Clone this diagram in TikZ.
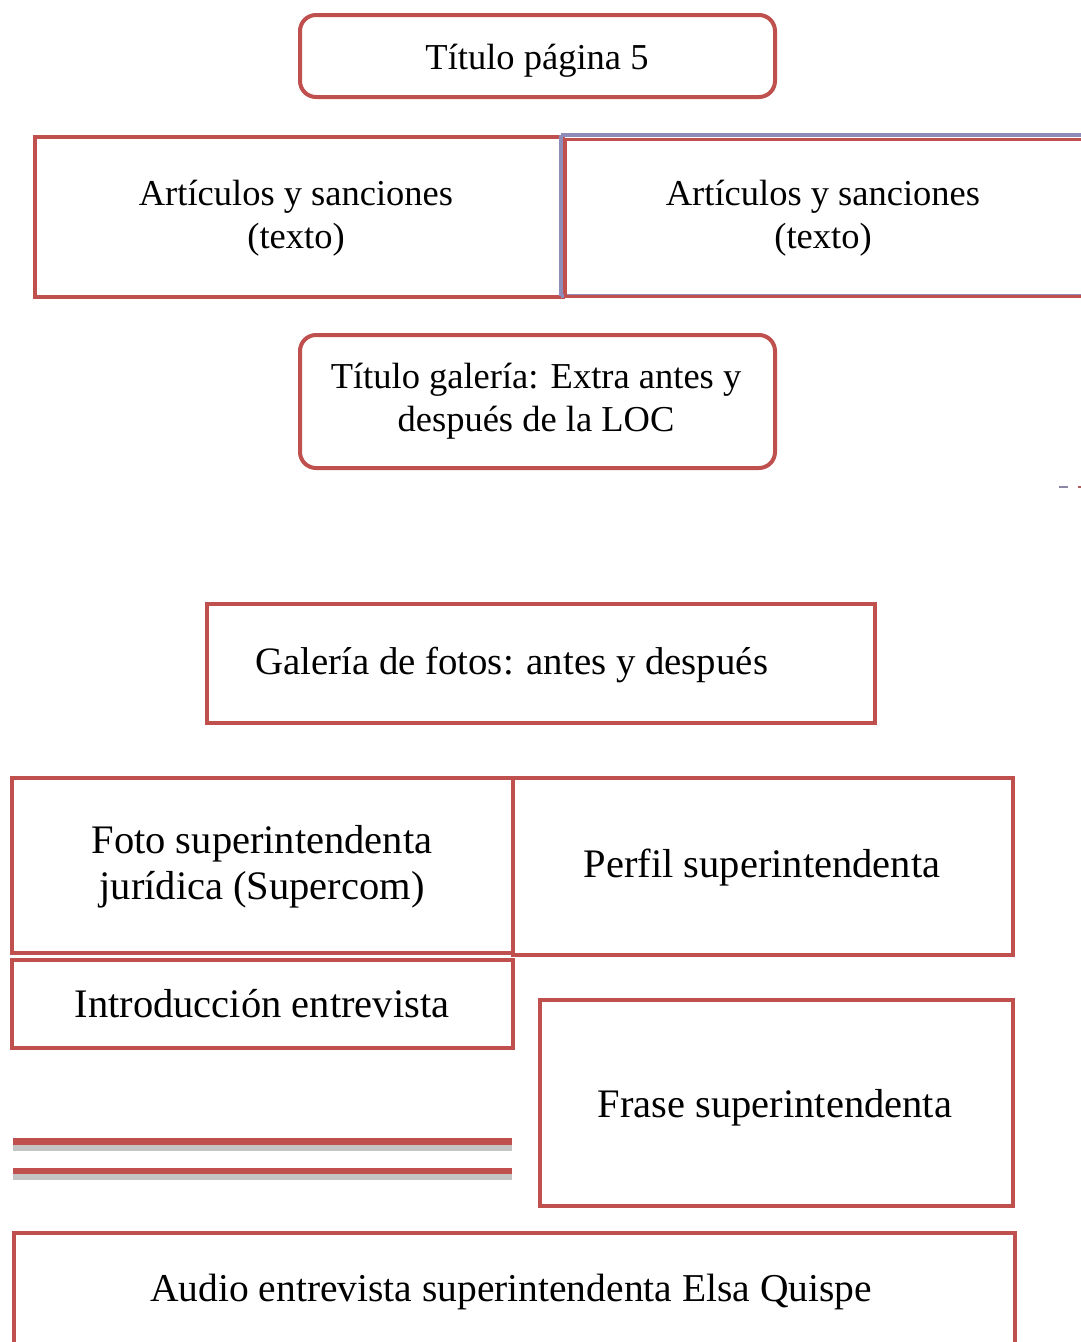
\documentclass[tikz,border=0pt]{standalone}
\usepackage{fontspec}
\setmainfont{Liberation Serif}
\definecolor{boxred}{HTML}{C0504D}
\definecolor{boxblue}{HTML}{8E8CB8}
\definecolor{shade}{HTML}{C4C4C4}
\begin{document}
\begin{tikzpicture}[x=1pt,y=-1pt,
  box/.style={draw=boxred, line width=4pt, rectangle, inner sep=0pt},
  rbox/.style={box, rounded corners=16pt},
  txt/.style={inner sep=0pt, align=center, font=\fontsize{36.5}{43}\selectfont},
  bigtxt/.style={txt, font=\fontsize{40.5}{46}\selectfont},
  bar/.style={draw=boxred, line width=6.5pt},
  barshade/.style={draw=shade, line width=6pt}]
\useasboundingbox (0,0) rectangle (1081,1342);
\fill[white] (0,0) rectangle (1081,1342);

% Title page
\node[rbox, minimum width=475, minimum height=82] (tp) at (537.5,56) {};
\node[txt] (tpt) at (537,61) {Título página 5};

% Articulos left
\node[box, minimum width=528, minimum height=160] (artl) at (299,217) {};
\node[txt] (artlt) at (296,218) {Artículos y sanciones\\(texto)};

% Articulos right (extends past edge)
\draw[boxblue, line width=4pt] (561,134.5) -- (1100,134.5);
\draw[boxblue, line width=4pt] (561,134.5) -- (561,296);
\draw[boxblue, line width=4pt] (561,296) -- (1100,296);
\node[box, line width=3pt, minimum width=540, minimum height=157, anchor=north west] (artr) at (564,137.5) {};
\node[txt] (artrt) at (823,218) {Artículos y sanciones\\(texto)};

% Titulo galeria
\node[rbox, minimum width=475, minimum height=133] (tg) at (537.5,401.5) {};
\node[txt] (tgt) at (536,401) {Título galería: Extra antes y\\después de la LOC};

% tiny mark
\coordinate (m1) at (1059,487);
\coordinate (m2) at (1068,487);
\coordinate (m3) at (1078,487);
\coordinate (m4) at (1081,487);
\draw[boxblue!70!gray, line width=1.5pt] (m1) -- (m2);
\draw[boxred!70!gray, line width=1.5pt] (m3) -- (m4);

% Galeria de fotos
\node[box, minimum width=668, minimum height=119] (gal) at (541,663.5) {};
\node[txt, anchor=west, font=\fontsize{38.8}{44}\selectfont] (galt) at ([xshift=50,yshift=-2]gal.west) {Galería de fotos: antes y después};

% Foto
\node[box, minimum width=501, minimum height=175] (foto) at (262.5,865.5) {};
\node[bigtxt] (fotot) at (262,867) {Foto superintendenta\\jurídica (Supercom)};

% Perfil
\node[box, minimum width=500, minimum height=177] (perf) at (763,866.5) {};
\node[bigtxt] (perft) at (762,868) {Perfil superintendenta};

% Introduccion
\node[box, minimum width=501, minimum height=88] (intro) at (262.5,1004) {};
\node[bigtxt] (introt) at (262,1004) {Introducción entrevista};

% Lines
\coordinate (l1a) at (13,1141.5);
\coordinate (l1b) at (512,1141.5);
\coordinate (l2a) at (13,1171);
\coordinate (l2b) at (512,1171);
\draw[barshade] ([yshift=-6]l1a) -- ([yshift=-6]l1b);
\draw[barshade] ([yshift=-6]l2a) -- ([yshift=-6]l2b);
\draw[bar] (l1a) -- (l1b);
\draw[bar] (l2a) -- (l2b);

% Frase
\node[box, minimum width=473, minimum height=206] (frase) at (776.5,1103) {};
\node[bigtxt] (fraset) at (775,1108) {Frase superintendenta};

% Audio (open at bottom)
\node[box, minimum width=1001, minimum height=140, anchor=north west] (audio) at (12,1231) {};
\node[txt, font=\fontsize{39.5}{45}\selectfont] (audiot) at (511,1292) {Audio entrevista superintendenta Elsa Quispe};
\end{tikzpicture}
\end{document}
